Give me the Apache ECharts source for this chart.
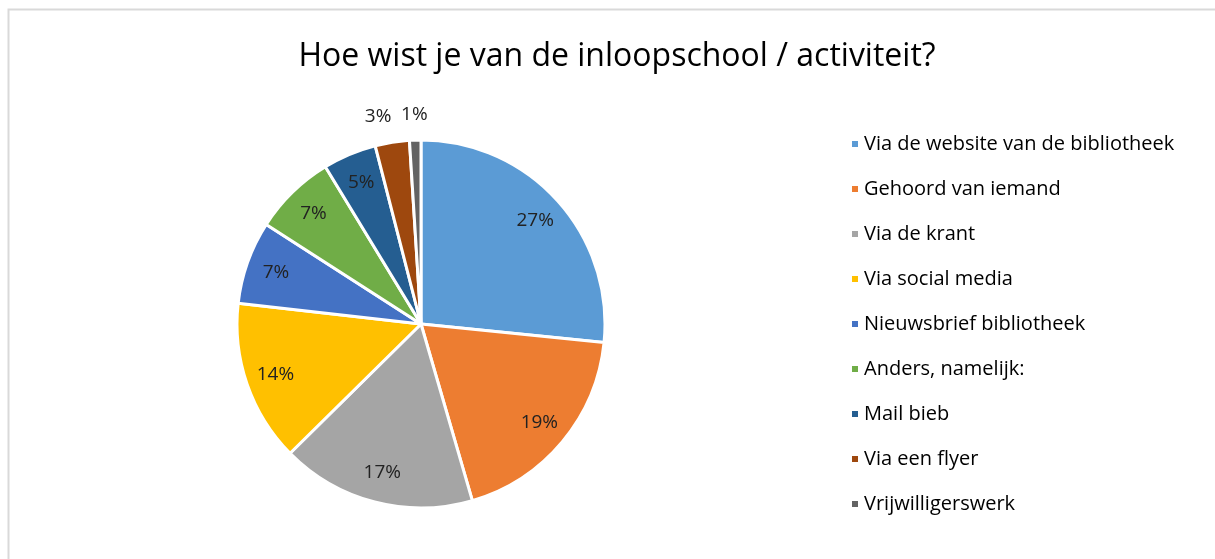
<!DOCTYPE html>
<html>
<head>
<meta charset="utf-8">
<script src="https://cdn.jsdelivr.net/npm/echarts@6/dist/echarts.min.js"></script>
<style>
  html, body { margin: 0; padding: 0; background: #fff; }
  #chart { width: 1215px; height: 559px; }
</style>
</head>
<body>
<div id="chart"></div>
<script>
// gegevens
const categories = [
    'Via de website van de bibliotheek',
    'Gehoord van iemand',
    'Via de krant',
    'Via social media',
    'Nieuwsbrief bibliotheek',
    'Anders, namelijk:',
    'Mail bieb',
    'Via een flyer',
    'Vrijwilligerswerk'
];
const shares = [26.6, 18.9, 17.1, 14.2, 7.3, 7.2, 4.7, 3.0, 1.0];
const colors = ['#5B9BD5', '#ED7D31', '#A5A5A5', '#FFC000', '#4472C4', '#70AD47', '#255E91', '#9E480E', '#636363'];
const outsideLabels = ['Via een flyer', 'Vrijwilligerswerk'];

function pctLabel(p) {
    return Math.round(p.percent) + '%';
}

const labelFont = { fontFamily: 'Open Sans', fontSize: 19, color: '#222' };

const chart = echarts.init(document.getElementById('chart'));
chart.setOption({
    backgroundColor: '#fff',
    animation: false,
    color: colors,
    title: {
        text: 'Hoe wist je van de inloopschool / activiteit?',
        left: 612,
        textAlign: 'center',
        top: 36,
        textStyle: { fontFamily: 'Open Sans', fontSize: 32, fontWeight: 'normal', color: '#000' }
    },
    legend: {
        orient: 'vertical',
        left: 845,
        top: 127,
        icon: 'rect',
        itemWidth: 8,
        itemHeight: 8,
        itemGap: 21,
        data: categories,
        textStyle: { fontFamily: 'Open Sans', fontSize: 20, color: '#000', lineHeight: 24 }
    },
    graphic: [{
        type: 'rect',
        shape: { x: 8.5, y: 9.5, width: 1300, height: 700 },
        style: { fill: 'none', stroke: '#d9d9d9', lineWidth: 2 },
        silent: true
    }],
    series: [
        {
            type: 'pie',
            center: [421, 324],
            radius: [0, 184],
            startAngle: 90,
            clockwise: true,
            data: categories.map((c, i) => ({ name: c, value: shares[i] })),
            itemStyle: { borderColor: '#fff', borderWidth: 3 },
            label: { show: false },
            labelLine: { show: false },
            emphasis: { disabled: true }
        },
        {
            // labels binnen de taartpunten
            type: 'pie',
            center: [421, 324],
            radius: [118, 184],
            silent: true,
            data: categories.map((c, i) => ({
                name: c,
                value: shares[i],
                label: { show: !outsideLabels.includes(c) }
            })),
            itemStyle: { color: 'transparent', borderWidth: 0 },
            label: Object.assign({ position: 'inside', formatter: pctLabel }, labelFont),
            labelLine: { show: false },
            emphasis: { disabled: true }
        },
        {
            // labels buiten de kleine taartpunten
            type: 'pie',
            center: [421, 324],
            radius: [196, 218],
            silent: true,
            data: categories.map((c, i) => ({
                name: c,
                value: shares[i],
                label: {
                    show: outsideLabels.includes(c),
                    offset: c === 'Via een flyer' ? [-10, 0] : [0, 0]
                }
            })),
            itemStyle: { color: 'transparent', borderWidth: 0 },
            label: Object.assign({ position: 'inside', formatter: pctLabel }, labelFont),
            labelLine: { show: false },
            emphasis: { disabled: true }
        }
    ]
});
</script>
</body>
</html>
